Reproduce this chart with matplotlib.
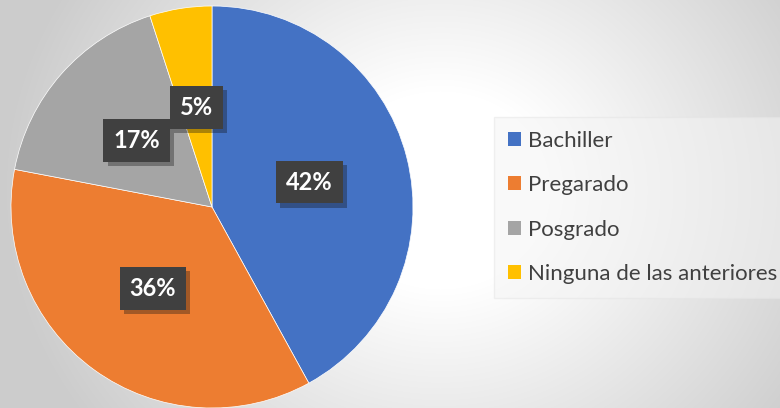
import numpy as np
import matplotlib.pyplot as plt
from matplotlib.patches import Patch
import matplotlib.patheffects as pe

plt.rcParams['font.family'] = ['Lato', 'DejaVu Sans']

categories = ['Bachiller', 'Pregarado', 'Posgrado', 'Ninguna de las anteriores']
values = [42, 36, 17, 5]
colors = ['#4472C4', '#ED7D31', '#A5A5A5', '#FFC000']

W, H = 780, 408
fig = plt.figure(figsize=(7.8, 4.08), dpi=100)

# background radial gradient
bg = fig.add_axes([0, 0, 1, 1])
yy, xx = np.mgrid[0:H, 0:W]
d = np.hypot((xx - 440) / 1.0, (yy - 190) / 0.9)
g = np.clip((d - 110) / 330, 0, 1)
shade = 1.0 - 0.2 * g
bg.imshow(np.dstack([shade] * 3), extent=[0, W, H, 0], aspect='auto', zorder=0)
bg.set_xlim(0, W)
bg.set_ylim(H, 0)
bg.axis('off')

ax = fig.add_axes([0, 0, 1, 1])
ax.axis('off')
ax.patch.set_alpha(0)

# y axis is flipped, so start at -90 (top) and go "counterclock" = clockwise on screen
wedges, texts, autotexts = ax.pie(
    values, colors=colors, startangle=-90, counterclock=True,
    center=(212, 207), radius=201, autopct='%d%%', pctdistance=0.5,
    wedgeprops=dict(edgecolor='white', linewidth=0.5),
    textprops=dict(color='white', fontsize=17, fontweight='bold'))
ax.set_xlim(0, W)
ax.set_ylim(H, 0)
ax.set_aspect('equal')

for t in autotexts:
    t.set_bbox(dict(boxstyle='square,pad=0.42', facecolor='#404040', edgecolor='none'))
    t.get_bbox_patch().set_path_effects([pe.SimplePatchShadow(offset=(3, -3), alpha=0.35), pe.Normal()])

handles = [Patch(facecolor=c, edgecolor='none') for c in colors]
leg = fig.legend(handles, categories, loc='upper left', bbox_to_anchor=(494 / W, 1 - 117 / H),
                 frameon=True, fancybox=False, fontsize=16, labelcolor='#404040',
                 handlelength=0.6, handleheight=0.6, handletextpad=0.3,
                 labelspacing=1.1, borderpad=0.62, borderaxespad=0)
frame = leg.get_frame()
frame.set_facecolor('#f4f4f4')
frame.set_alpha(0.5)
frame.set_edgecolor('#e4e4e4')

fig.savefig('out.png', dpi=100)
